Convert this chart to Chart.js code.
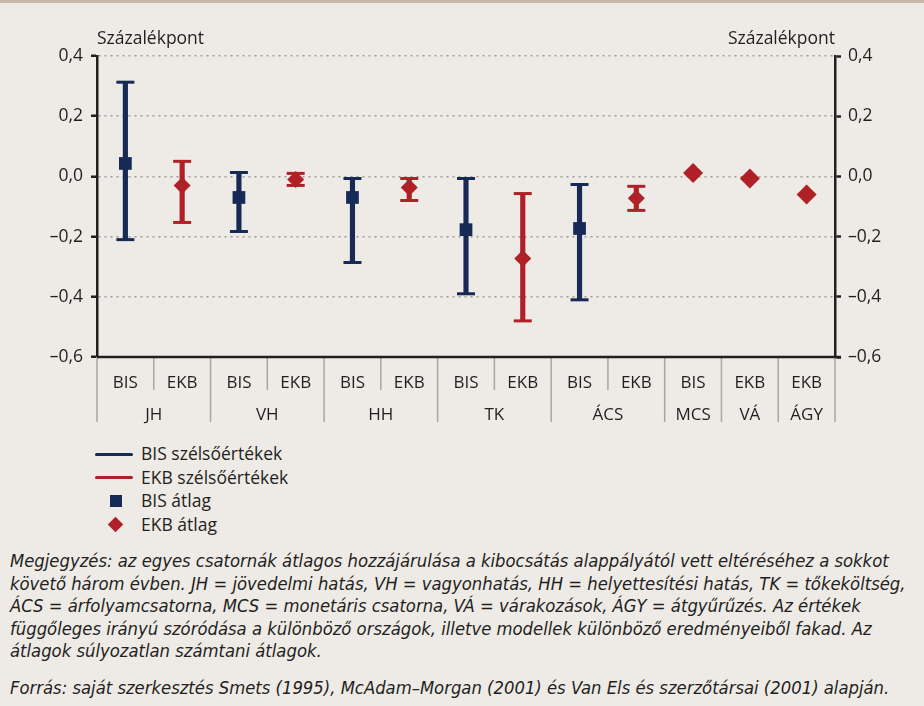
<!DOCTYPE html>
<html>
<head>
<meta charset="utf-8">
<script src="https://cdn.jsdelivr.net/npm/chart.js@4.4.0/dist/chart.umd.min.js"></script>
<style>
    body { margin: 0; background: #eeeae6; width: 924px; height: 706px; overflow: hidden; position: relative; font-family: "Open Sans", sans-serif; color: #231f20; }
    #topline { position: absolute; left: 0; top: 0; width: 924px; height: 3px; background: #c8b8a9; }
    #wrap { position: absolute; left: 0; top: 0; }
    #legend { position: absolute; left: 95px; top: 442px; font-size: 17.5px; line-height: 23.5px; }
    #legend div { position: relative; padding-left: 46px; white-space: nowrap; }
    #legend .ln { position: absolute; left: 0; top: 10.5px; width: 38px; height: 3px; border-radius: 2px; }
    #legend .sq { position: absolute; left: 15px; top: 6px; width: 12px; height: 12px; background: #172a55; }
    #legend .dm { position: absolute; left: 15px; top: 6px; width: 11px; height: 11px; background: #b02127; transform: rotate(45deg); }
    #notes { position: absolute; left: 10px; top: 550px; font-family: "Liberation Sans Narrow", "DejaVu Sans Condensed", sans-serif; font-style: italic; font-size: 18.3px; line-height: 22.5px; white-space: nowrap; }
    #notes p { margin: 0; }
    #notes p.src { margin-top: 14px; }
</style>
</head>
<body>
<div id="topline"></div>
<div id="wrap"><canvas id="chart" width="924" height="440"></canvas></div>
<div id="legend">
    <div><span class="ln" style="background:#172a55"></span>BIS szélsőértékek</div>
    <div><span class="ln" style="background:#b02127"></span>EKB szélsőértékek</div>
    <div><span class="sq"></span>BIS átlag</div>
    <div><span class="dm"></span>EKB átlag</div>
</div>
<div id="notes">
    <p>Megjegyzés: az egyes csatornák átlagos hozzájárulása a kibocsátás alappályától vett eltéréséhez a sokkot<br>
    követő három évben. JH = jövedelmi hatás, VH = vagyonhatás, HH = helyettesítési hatás, TK = tőkeköltség,<br>
    ÁCS = árfolyamcsatorna, MCS = monetáris csatorna, VÁ = várakozások, ÁGY = átgyűrűzés. Az értékek<br>
    függőleges irányú szóródása a különböző országok, illetve modellek különböző eredményeiből fakad. Az<br>
    átlagok súlyozatlan számtani átlagok.</p>
    <p class="src">Forrás: saját szerkesztés Smets (1995), McAdam–Morgan (2001) és Van Els és szerzőtársai (2001) alapján.</p>
</div>
<script>
const categories = ['BIS', 'EKB', 'BIS', 'EKB', 'BIS', 'EKB', 'BIS', 'EKB', 'BIS', 'EKB', 'BIS', 'EKB', 'EKB'];
const groups = ['JH', 'VH', 'HH', 'TK', 'ÁCS', 'MCS', 'VÁ', 'ÁGY'];
const groupSpans = [2, 2, 2, 2, 2, 1, 1, 1];

const bisHigh = [0.313, null, 0.013, null, -0.007, null, -0.007, null, -0.027, null, null, null, null];
const bisLow  = [-0.21, null, -0.183, null, -0.286, null, -0.39, null, -0.41, null, null, null, null];
const bisMean = [0.043, null, -0.07, null, -0.07, null, -0.177, null, -0.173, null, null, null, null];

const ekbHigh = [null, 0.05, null, 0.01, null, -0.007, null, -0.057, null, -0.033, null, null, null];
const ekbLow  = [null, -0.153, null, -0.03, null, -0.08, null, -0.48, null, -0.113, null, null, null];
const ekbMean = [null, -0.03, null, -0.01, null, -0.037, null, -0.273, null, -0.073, 0.011, -0.007, -0.06];

const yTicks = [-0.6, -0.4, -0.2, 0, 0.2, 0.4];

const NAVY = '#172a55';
const RED = '#b02127';
const INK = '#231f20';
const FONT = '"Open Sans", sans-serif';

function fmt(v) {
    return v.toFixed(1).replace('.', ',').replace('-', '–');
}

function range(low, high) {
    return low.map((l, i) => (l === null ? null : [l, high[i]]));
}

const axisPlugin = {
    id: 'axisPlugin',
    afterDraw(chart) {
        const { ctx, chartArea } = chart;
        const x = chart.scales.x;
        const bottom = chartArea.bottom;
        const half = (x.getPixelForValue(1) - x.getPixelForValue(0)) / 2;
        ctx.save();

        // separators under the axis
        ctx.strokeStyle = '#a8a6a4';
        ctx.lineWidth = 1.5;
        const groupEnds = [];
        let acc = 0;
        groupSpans.forEach(s => { acc += s; groupEnds.push(acc); });
        for (let i = 0; i <= categories.length; i++) {
            const px = i === 0 ? chartArea.left : (i === categories.length ? chartArea.right : x.getPixelForValue(i) - half);
            const long = i === 0 || groupEnds.includes(i);
            ctx.beginPath();
            ctx.moveTo(px, bottom);
            ctx.lineTo(px, long ? bottom + 65 : bottom + 33);
            ctx.stroke();
        }

        // bottom axis line
        ctx.strokeStyle = INK;
        ctx.lineWidth = 2.5;
        ctx.beginPath();
        ctx.moveTo(chartArea.left, bottom);
        ctx.lineTo(chartArea.right + 6, bottom);
        ctx.stroke();

        // labels
        ctx.fillStyle = INK;
        ctx.font = '17px ' + FONT;
        ctx.textAlign = 'center';
        ctx.textBaseline = 'middle';
        categories.forEach((c, i) => ctx.fillText(c, x.getPixelForValue(i), bottom + 26));
        let start = 0;
        groups.forEach((g, k) => {
            const end = start + groupSpans[k] - 1;
            const cx = (x.getPixelForValue(start) + x.getPixelForValue(end)) / 2;
            ctx.fillText(g, cx, bottom + 58);
            start += groupSpans[k];
        });

        // unit titles
        ctx.textBaseline = 'alphabetic';
        ctx.textAlign = 'left';
        ctx.font = '17.5px ' + FONT;
        ctx.fillText('Százalékpont', chartArea.left, 44);
        ctx.textAlign = 'right';
        ctx.fillText('Százalékpont', chartArea.right, 44);
        ctx.restore();
    }
};

const yCommon = {
    min: -0.6,
    max: 0.4,
    afterBuildTicks: scale => { scale.ticks = yTicks.map(v => ({ value: v })); },
    ticks: {
        color: INK,
        font: { size: 17.5, family: FONT },
        callback: v => fmt(v)
    },
    border: { color: INK, width: 2.5, dash: [2, 4] }
};

new Chart(document.getElementById('chart'), {
    type: 'bar',
    data: {
        labels: categories,
        datasets: [
            { label: 'BIS szélsőértékek', data: range(bisLow, bisHigh), backgroundColor: NAVY, barThickness: 4.5, grouped: false, order: 3 },
            { label: 'EKB szélsőértékek', data: range(ekbLow, ekbHigh), backgroundColor: RED, barThickness: 4.5, grouped: false, order: 3 },
            { type: 'line', data: bisHigh, showLine: false, pointStyle: 'line', pointRadius: 9, borderWidth: 3, borderColor: NAVY, order: 2 },
            { type: 'line', data: bisLow, showLine: false, pointStyle: 'line', pointRadius: 9, borderWidth: 3, borderColor: NAVY, order: 2 },
            { type: 'line', data: ekbHigh, showLine: false, pointStyle: 'line', pointRadius: 9, borderWidth: 3, borderColor: RED, order: 2 },
            { type: 'line', data: ekbLow, showLine: false, pointStyle: 'line', pointRadius: 9, borderWidth: 3, borderColor: RED, order: 2 },
            { type: 'line', label: 'BIS átlag', data: bisMean, showLine: false, pointStyle: 'rect', pointRadius: 9, borderWidth: 0, backgroundColor: NAVY, order: 1 },
            { type: 'line', label: 'EKB átlag', data: ekbMean, showLine: false, pointStyle: 'rectRot',
              pointRadius: c => (ekbHigh[c.dataIndex] === null ? 10 : 8.5), borderWidth: 0, backgroundColor: RED, order: 1 }
        ]
    },
    options: {
        responsive: false,
        animation: false,
        devicePixelRatio: 1,
        layout: { padding: { top: 56, bottom: 83, left: 0, right: 0 } },
        plugins: { legend: { display: false }, tooltip: { enabled: false } },
        scales: {
            x: { display: false, offset: true },
            y: Object.assign({}, yCommon, {
                position: 'left',
                afterFit: s => { s.width = 97; },
                ticks: Object.assign({}, yCommon.ticks, { padding: 8 }),
                grid: { color: '#9d9c9b', lineWidth: 1.5, tickColor: INK, tickLength: 6, tickWidth: 2.5 }
            }),
            y2: Object.assign({}, yCommon, {
                position: 'right',
                afterFit: s => { s.width = 89; },
                ticks: Object.assign({}, yCommon.ticks, { padding: 7 }),
                grid: { drawOnChartArea: false, tickColor: INK, tickLength: 6, tickWidth: 2.5 }
            })
        }
    },
    plugins: [axisPlugin]
});
</script>
</body>
</html>
